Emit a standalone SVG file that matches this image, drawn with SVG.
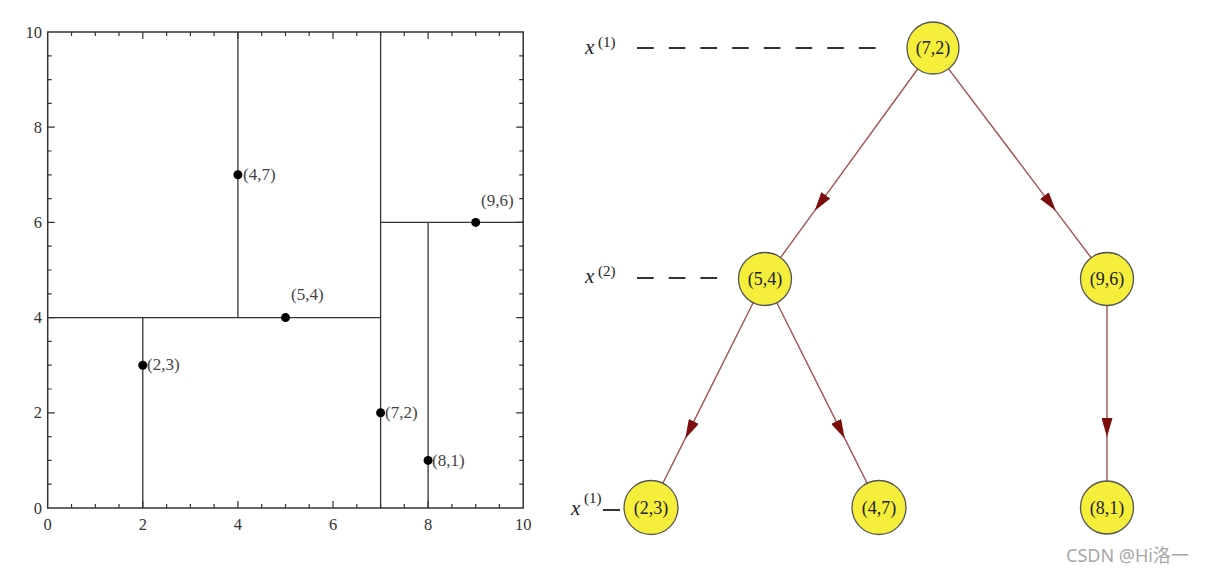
<svg xmlns="http://www.w3.org/2000/svg" width="1212" height="573" viewBox="0 0 1212 573">
<style>
.ax{stroke:#333;stroke-width:1.5;fill:none}
.tk{stroke:#333;stroke-width:1.2}
.pl{stroke:#333;stroke-width:1.3}
.num{font-family:"Liberation Serif",serif;font-size:16.5px;fill:#333}
.lbl{font-family:"Liberation Serif",serif;font-size:17px;fill:#444}
.dot{fill:#000}
.node circle{fill:#f5ee3a;stroke:#555;stroke-width:1.3}
.node text{font-family:"Liberation Serif",serif;font-size:18px;fill:#222;text-anchor:middle}
.edge{stroke:#a35252;stroke-width:1.4;fill:none;marker-mid:url(#ah)}
.dash{stroke:#333;stroke-width:2;stroke-dasharray:16.7 15}
.xv{font-family:"Liberation Serif",serif;font-size:21px;font-style:italic;fill:#222}
.sup{font-family:"Liberation Serif",serif;font-size:15px;fill:#222}
</style>
<defs>
<marker id="ah" viewBox="0 0 19 11" refX="19" refY="5.5" markerWidth="19" markerHeight="11" markerUnits="userSpaceOnUse" orient="auto">
<path d="M0,0 L19,5.5 L0,11 Z" fill="#7b0d0d"/>
</marker>
</defs>
<rect width="1212" height="573" fill="#fff"/>
<g id="plot">
<rect class="ax" x="47.7" y="32" width="475.5" height="476"/>
<g id="ticks">
<path class="tk" d="M71.5,32v4M95.3,32v4M119.0,32v4M142.8,32v7M166.6,32v4M190.4,32v4M214.1,32v4M237.9,32v7M261.7,32v4M285.5,32v4M309.2,32v4M333.0,32v7M356.8,32v4M380.6,32v4M404.3,32v4M428.1,32v7M451.9,32v4M475.7,32v4M499.4,32v4"/>
<path class="tk" d="M71.5,508v-4M95.3,508v-4M119.0,508v-4M142.8,508v-7M166.6,508v-4M190.4,508v-4M214.1,508v-4M237.9,508v-7M261.7,508v-4M285.5,508v-4M309.2,508v-4M333.0,508v-7M356.8,508v-4M380.6,508v-4M404.3,508v-4M428.1,508v-7M451.9,508v-4M475.7,508v-4M499.4,508v-4"/>
<path class="tk" d="M47.7,484.2h4M47.7,460.4h4M47.7,436.6h4M47.7,412.8h7M47.7,389h4M47.7,365.2h4M47.7,341.4h4M47.7,317.6h7M47.7,293.8h4M47.7,270h4M47.7,246.2h4M47.7,222.4h7M47.7,198.6h4M47.7,174.8h4M47.7,151h4M47.7,127.2h7M47.7,103.4h4M47.7,79.6h4M47.7,55.8h4"/>
<path class="tk" d="M523.2,484.2h-4M523.2,460.4h-4M523.2,436.6h-4M523.2,412.8h-7M523.2,389h-4M523.2,365.2h-4M523.2,341.4h-4M523.2,317.6h-7M523.2,293.8h-4M523.2,270h-4M523.2,246.2h-4M523.2,222.4h-7M523.2,198.6h-4M523.2,174.8h-4M523.2,151h-4M523.2,127.2h-7M523.2,103.4h-4M523.2,79.6h-4M523.2,55.8h-4"/>
</g>
<g id="ylabels" class="num" text-anchor="end">
<text x="42" y="38">10</text>
<text x="42" y="133">8</text>
<text x="42" y="228">6</text>
<text x="42" y="323">4</text>
<text x="42" y="418">2</text>
<text x="42" y="514">0</text>
</g>
<g id="xlabels" class="num" text-anchor="middle">
<text x="47.7" y="530">0</text>
<text x="142.8" y="530">2</text>
<text x="237.9" y="530">4</text>
<text x="333" y="530">6</text>
<text x="428.1" y="530">8</text>
<text x="523.2" y="530">10</text>
</g>
<g id="splits">
<line class="pl" x1="380.6" y1="32" x2="380.6" y2="508"/>
<line class="pl" x1="47.7" y1="317.6" x2="380.6" y2="317.6"/>
<line class="pl" x1="237.9" y1="32" x2="237.9" y2="317.6"/>
<line class="pl" x1="142.8" y1="317.6" x2="142.8" y2="508"/>
<line class="pl" x1="380.6" y1="222.4" x2="523.2" y2="222.4"/>
<line class="pl" x1="428.1" y1="222.4" x2="428.1" y2="508"/>
</g>
<g id="points">
<circle class="dot" cx="142.8" cy="365.2" r="4.5"/>
<circle class="dot" cx="237.9" cy="174.8" r="4.5"/>
<circle class="dot" cx="285.5" cy="317.6" r="4.5"/>
<circle class="dot" cx="380.6" cy="412.8" r="4.5"/>
<circle class="dot" cx="428.1" cy="460.4" r="4.5"/>
<circle class="dot" cx="475.7" cy="222.4" r="4.5"/>
<text class="lbl" x="147" y="370">(2,3)</text>
<text class="lbl" x="243" y="180">(4,7)</text>
<text class="lbl" x="291" y="300">(5,4)</text>
<text class="lbl" x="481" y="206">(9,6)</text>
<text class="lbl" x="385" y="418">(7,2)</text>
<text class="lbl" x="432" y="466">(8,1)</text>
</g>
</g>
<g id="levels">
<text class="xv" x="585" y="54">x</text><text class="sup" x="598" y="47">(1)</text>
<line class="dash" x1="637" y1="48" x2="877" y2="48"/>
<text class="xv" x="585" y="283">x</text><text class="sup" x="598" y="276">(2)</text>
<line class="dash" x1="637" y1="278" x2="719" y2="278"/>
<text class="xv" x="571" y="515">x</text><text class="sup" x="584" y="503">(1)</text>
<line stroke="#333" stroke-width="2" x1="603" y1="510" x2="620" y2="510"/>
</g>
<g id="connectors">
<path class="edge" d="M917.7,69 L814.7,210.7 L780.3,257.9"/>
<path class="edge" d="M948.6,68.8 L1055.8,210.8 L1091.5,258.2"/>
<path class="edge" d="M753.4,302.3 L685.3,438.4 L662.6,483.7"/>
<path class="edge" d="M776.6,302.3 L844.7,438.4 L867.4,483.7"/>
<path class="edge" d="M1107,305 L1107,437 L1107,481"/>
</g>
<g id="n72" class="node"><circle cx="933" cy="48" r="26"/><text x="933" y="54">(7,2)</text></g>
<g id="n54" class="node"><circle cx="765" cy="279" r="26.5"/><text x="765" y="285">(5,4)</text></g>
<g id="n96" class="node"><circle cx="1107" cy="279" r="26.5"/><text x="1107" y="285">(9,6)</text></g>
<g id="n23" class="node"><circle cx="651" cy="507.5" r="27"/><text x="651" y="513.5">(2,3)</text></g>
<g id="n47" class="node"><circle cx="879" cy="507.5" r="27"/><text x="879" y="513.5">(4,7)</text></g>
<g id="n81" class="node"><circle cx="1107" cy="507.5" r="26.5"/><text x="1107" y="513.5">(8,1)</text></g>
<text x="1066" y="562" font-family="'Noto Sans','Noto Sans CJK SC',sans-serif" font-size="18" fill="#a8a8a8">CSDN @Hi洛一</text>
</svg>
